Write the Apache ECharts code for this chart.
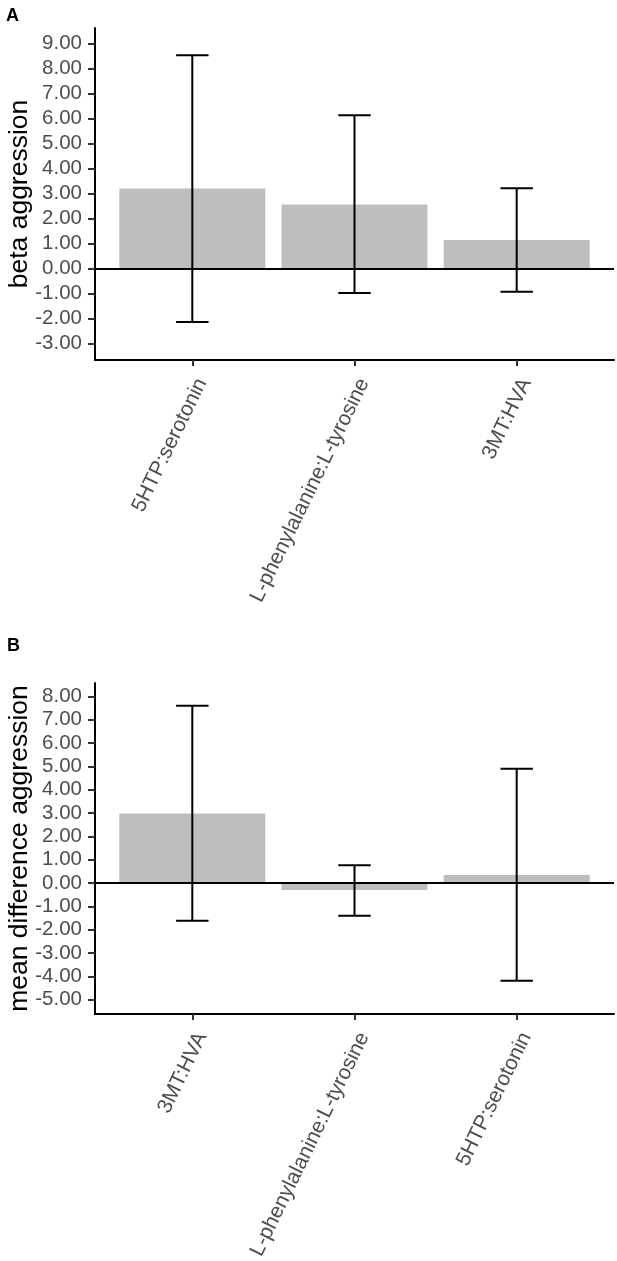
<!DOCTYPE html>
<html>
<head>
<meta charset="utf-8">
<script src="https://cdn.jsdelivr.net/npm/echarts@6/dist/echarts.min.js"></script>
<style>
html,body{margin:0;padding:0;background:#fff;}
#main{width:617px;height:1261px;}
</style>
</head>
<body>
<div id="main"></div>
<script>
// Panel A
const catsA = ['5HTP:serotonin', 'L-phenylalanine:L-tyrosine', '3MT:HVA'];
const valsA = [3.19, 2.56, 1.14];
const lowA = [-2.14, -0.98, -0.93];
const highA = [8.52, 6.12, 3.20];
const ticksA = [-3, -2, -1, 0, 1, 2, 3, 4, 5, 6, 7, 8, 9];

// Panel B
const catsB = ['3MT:HVA', 'L-phenylalanine:L-tyrosine', '5HTP:serotonin'];
const valsB = [2.98, -0.30, 0.34];
const lowB = [-1.61, -1.40, -4.19];
const highB = [7.60, 0.76, 4.90];
const ticksB = [-5, -4, -3, -2, -1, 0, 1, 2, 3, 4, 5, 6, 7, 8];

const chart = echarts.init(document.getElementById('main'), null, {renderer: 'canvas'});

const FONT = 'Liberation Sans';
const gridLeft = 95, gridW = 519;
const barW = gridW / 3.2 * 0.9;

function xAxisFor(idx, cats) {
  return {
    type: 'value', gridIndex: idx, min: 0.4, max: 3.6,
    axisLine: {show: true, onZero: false, lineStyle: {color: '#000', width: 2}},
    axisTick: {show: true, customValues: [1, 2, 3], length: 6, lineStyle: {color: '#333', width: 2}},
    axisLabel: {
      show: true, customValues: [1, 2, 3], rotate: 64, margin: 15,
      verticalAlign: 'top',
      color: '#4d4d4d', fontSize: 21, fontFamily: FONT,
      formatter: v => cats[Math.round(v) - 1] || ''
    },
    splitLine: {show: false}
  };
}
function yAxisFor(idx, ticks, mn, mx, name) {
  return {
    type: 'value', gridIndex: idx, min: mn, max: mx,
    name: name, nameLocation: 'middle', nameGap: 62, nameRotate: 90,
    nameMoveOverlap: false,
    nameTextStyle: {color: '#000', fontSize: 26.5, fontFamily: FONT},
    axisLine: {show: true, onZero: false, lineStyle: {color: '#000', width: 2}},
    axisTick: {show: true, customValues: ticks, length: 7, lineStyle: {color: '#333', width: 2}},
    axisLabel: {
      show: true, customValues: ticks, margin: 13,
      color: '#4d4d4d', fontSize: 20.5, fontFamily: FONT,
      formatter: v => v.toFixed(2)
    },
    splitLine: {show: false}
  };
}
function errSeries(idx, low, high) {
  return {
    type: 'custom', xAxisIndex: idx, yAxisIndex: idx, z: 5,
    data: low.map((l, i) => [i + 1, l, high[i]]),
    renderItem: function (params, api) {
      const x = api.value(0), lo = api.value(1), hi = api.value(2);
      const pTop = api.coord([x, hi]);
      const pBot = api.coord([x, lo]);
      const pL = api.coord([x - 0.1, hi]);
      const pR = api.coord([x + 0.1, hi]);
      const style = {stroke: '#000', lineWidth: 2};
      return {
        type: 'group',
        children: [
          {type: 'line', shape: {x1: pTop[0], y1: pTop[1], x2: pBot[0], y2: pBot[1]}, style: style},
          {type: 'line', shape: {x1: pL[0], y1: pTop[1], x2: pR[0], y2: pTop[1]}, style: style},
          {type: 'line', shape: {x1: pL[0], y1: pBot[1], x2: pR[0], y2: pBot[1]}, style: style}
        ]
      };
    }
  };
}
function barSeries(idx, vals) {
  return {
    type: 'bar', xAxisIndex: idx, yAxisIndex: idx, barWidth: barW,
    data: vals.map((v, i) => [i + 1, v]),
    itemStyle: {color: '#bebebe'},
    markLine: {
      silent: true, symbol: 'none', label: {show: false},
      lineStyle: {color: '#000', width: 2, type: 'solid'},
      data: [{yAxis: 0}]
    },
    z: 2
  };
}

chart.setOption({
  animation: false,
  backgroundColor: '#fff',
  title: [
    {text: 'A', left: 6, top: 7, padding: 0, textStyle: {fontSize: 18, fontWeight: 'bold', color: '#000', fontFamily: FONT}},
    {text: 'B', left: 7, top: 637, padding: 0, textStyle: {fontSize: 18, fontWeight: 'bold', color: '#000', fontFamily: FONT}}
  ],
  grid: [
    {left: gridLeft, top: 28, width: gridW, height: 332, outerBoundsMode: 'none', containLabel: false},
    {left: gridLeft, top: 683, width: gridW, height: 331, outerBoundsMode: 'none', containLabel: false}
  ],
  xAxis: [xAxisFor(0, catsA), xAxisFor(1, catsB)],
  yAxis: [
    yAxisFor(0, ticksA, -3.66, 9.61, 'beta aggression'),
    yAxisFor(1, ticksB, -5.61, 8.57, 'mean difference aggression')
  ],
  series: [
    barSeries(0, valsA), errSeries(0, lowA, highA),
    barSeries(1, valsB), errSeries(1, lowB, highB)
  ]
});
</script>
</body>
</html>
